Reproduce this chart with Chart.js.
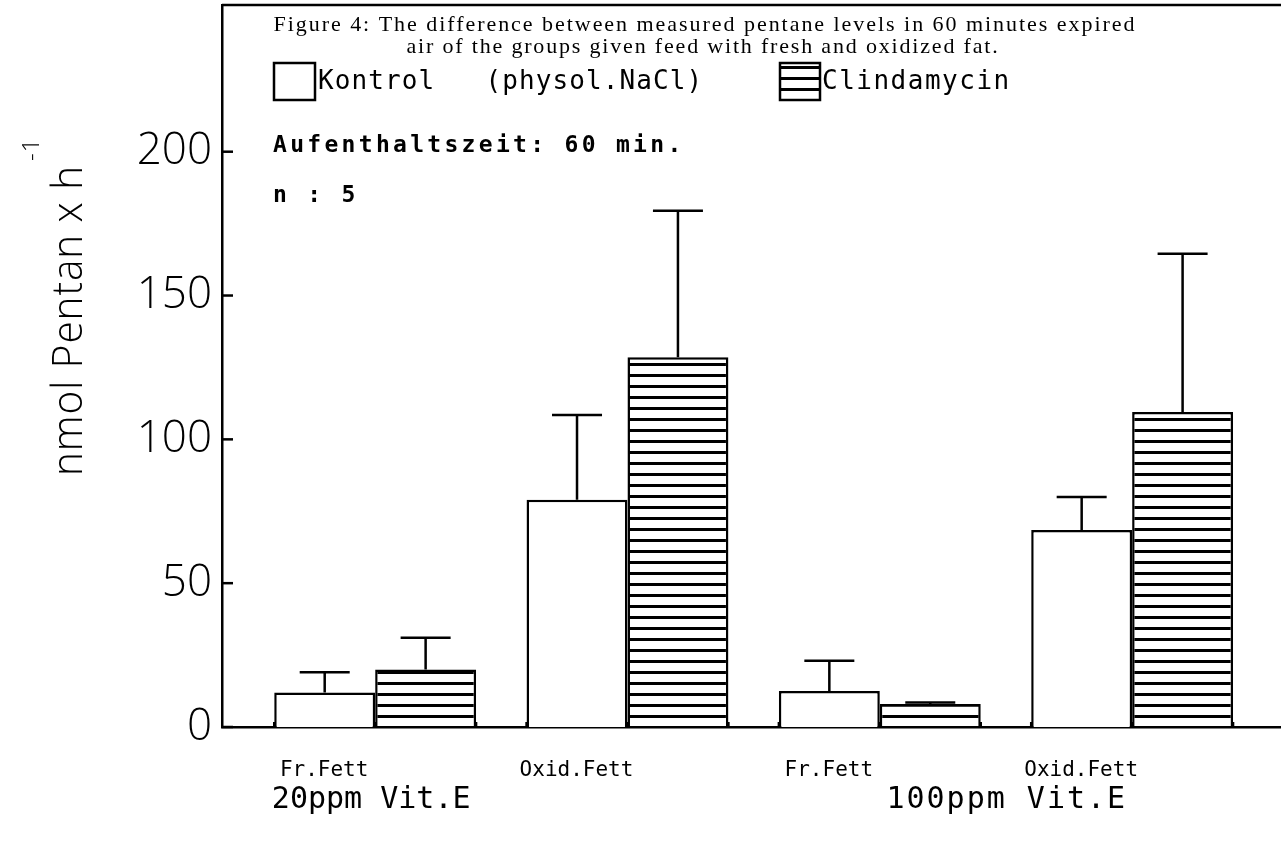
<!DOCTYPE html>
<html>
<head>
<meta charset="utf-8">
<script src="https://cdn.jsdelivr.net/npm/chart.js@4.4.1/dist/chart.umd.min.js"></script>
<style>
  html, body { margin: 0; padding: 0; background: #fff; }
  #wrap { width: 1281px; height: 847px; position: relative; }
</style>
</head>
<body>
<div id="wrap"><canvas id="chart"></canvas></div>
<script>
const categories = ["Fr.Fett", "Oxid.Fett", "Fr.Fett", "Oxid.Fett"];
const groupLabels = ["20ppm Vit.E", "100ppm Vit.E"];
const kontrolValues = [12, 79, 12.5, 68.5];
const kontrolSD = [7, 29.5, 10.5, 11.5];
const clindaValues = [20, 128.5, 8, 109.5];
const clindaSD = [11, 51, 0.5, 55];
const yTicks = [0, 50, 100, 150, 200];

const thinFont = "'Open Sans', 'DejaVu Sans Condensed', sans-serif";
const monoFont = "'DejaVu Sans Mono', monospace";

function makeHatch(step) {
  const c = document.createElement("canvas");
  c.width = 8;
  c.height = step;
  const g = c.getContext("2d");
  g.fillStyle = "#fff";
  g.fillRect(0, 0, 8, step);
  g.fillStyle = "#000";
  g.fillRect(0, 0, 8, 3);
  return g.createPattern(c, "repeat");
}

const hatch = makeHatch(11);

function text(ctx, str, x, y, font, align, spacing) {
  ctx.save();
  ctx.font = font;
  ctx.fillStyle = "#000";
  ctx.textAlign = align || "left";
  ctx.textBaseline = "middle";
  ctx.letterSpacing = (spacing || 0) + "px";
  ctx.fillText(str, x, y);
  ctx.restore();
}

const decorations = {
  id: "decorations",
  afterDatasetsDraw(chart) {
    const { ctx, chartArea, scales } = chart;
    const x = scales.x;
    const y = scales.y;

    ctx.save();
    ctx.strokeStyle = "#000";
    ctx.lineWidth = 2.5;

    // frame top
    ctx.beginPath();
    ctx.moveTo(chartArea.left, chartArea.top);
    ctx.lineTo(chartArea.right, chartArea.top);
    ctx.stroke();

    // inward y ticks
    yTicks.forEach((v) => {
      const py = y.getPixelForValue(v);
      ctx.beginPath();
      ctx.moveTo(chartArea.left, py);
      ctx.lineTo(chartArea.left + 11, py);
      ctx.stroke();
    });

    // error bars + small x ticks at bar edges
    const sds = [kontrolSD, clindaSD];
    chart.data.datasets.forEach((ds, di) => {
      const meta = chart.getDatasetMeta(di);
      meta.data.forEach((bar, i) => {
        const top = y.getPixelForValue(ds.data[i].y + sds[di][i]);
        ctx.beginPath();
        ctx.moveTo(bar.x, bar.y);
        ctx.lineTo(bar.x, top);
        ctx.moveTo(bar.x - 25, top);
        ctx.lineTo(bar.x + 25, top);
        ctx.stroke();

        const half = bar.width / 2;
        [bar.x - half, bar.x + half].forEach((ex) => {
          ctx.beginPath();
          ctx.moveTo(ex, chartArea.bottom);
          ctx.lineTo(ex, chartArea.bottom - 5);
          ctx.stroke();
        });
      });
    });
    ctx.restore();

    // title inside frame
    const t1 = "Figure 4: The difference between measured pentane levels in 60 minutes expired";
    const t2 = "air of the groups given feed with fresh and oxidized fat.";
    const tf = "22px 'Liberation Serif', serif";
    ctx.save();
    ctx.font = tf;
    const w1 = ctx.measureText(t1).width;
    const w2 = ctx.measureText(t2).width;
    ctx.restore();
    text(ctx, t1, 705, 25, tf, "center", (863 - w1) / t1.length);
    text(ctx, t2, 703, 47, tf, "center", (593 - w2) / t2.length);

    // legend
    ctx.save();
    ctx.lineWidth = 2.5;
    ctx.strokeStyle = "#000";
    ctx.fillStyle = "#fff";
    ctx.fillRect(274, 63, 41, 37);
    ctx.strokeRect(274, 63, 41, 37);
    ctx.fillStyle = hatch;
    ctx.fillRect(780, 63, 40, 37);
    ctx.strokeRect(780, 63, 40, 37);
    ctx.restore();
    text(ctx, chart.data.datasets[0].label, 318, 82, "26px " + monoFont, "left", 1.1);
    text(ctx, chart.data.datasets[1].label, 822, 82, "26px " + monoFont, "left", 1.5);

    // notes
    text(ctx, "Aufenthaltszeit: 60 min.", 273, 146, "bold 23px " + monoFont, "left", 3.3);
    text(ctx, "n : 5", 273, 196, "bold 23px " + monoFont, "left", 3.3);

    // group labels below the axis
    text(ctx, groupLabels[0], x.getPixelForValue(1) - 4, 800, "30px " + monoFont, "center", 0);
    text(ctx, groupLabels[1], x.getPixelForValue(3) + 127, 800, "30px " + monoFont, "center", 2);

    // y axis title with superscript
    ctx.save();
    ctx.translate(70, 476);
    ctx.rotate(-Math.PI / 2);
    ctx.font = "300 43px " + thinFont;
    ctx.fillStyle = "#000";
    ctx.textAlign = "left";
    ctx.textBaseline = "middle";
    const yt = "nmol Pentan x h";
    ctx.letterSpacing = "1px";
    const yw = ctx.measureText(yt).width;
    const sc = 311 / yw;
    ctx.save();
    ctx.scale(sc, 1);
    ctx.fillText(yt, 0, 0);
    ctx.restore();
    ctx.font = "300 24px " + thinFont;
    ctx.fillText("-1", 311 + 4, -38);
    ctx.restore();
  },
};

const toPoints = (vals) => vals.map((v, i) => ({ x: i + 1, y: v }));

new Chart(document.getElementById("chart"), {
  type: "bar",
  data: {
    datasets: [
      {
        label: "Kontrol   (physol.NaCl)",
        data: toPoints(kontrolValues),
        backgroundColor: "#fff",
        borderColor: "#000",
        borderWidth: 2.5,
        categoryPercentage: 0.8,
        barPercentage: 1.0,
      },
      {
        label: "Clindamycin",
        data: toPoints(clindaValues),
        backgroundColor: hatch,
        borderColor: "#000",
        borderWidth: 2.5,
        categoryPercentage: 0.8,
        barPercentage: 1.0,
      },
    ],
  },
  options: {
    responsive: true,
    maintainAspectRatio: false,
    animation: false,
    layout: { padding: { top: 5, right: 0, left: 0, bottom: 0 } },
    plugins: {
      legend: { display: false },
      tooltip: { enabled: false },
    },
    scales: {
      x: {
        type: "linear",
        min: 0.393,
        max: 4.59,
        offset: false,
        afterFit: (s) => {
          s.height = 120;
          s.paddingLeft = 0;
          s.paddingRight = 0;
        },
        afterBuildTicks: (s) => { s.ticks = categories.map((c, i) => ({ value: i + 1 })); },
        grid: { display: false, drawTicks: false },
        border: { display: true, color: "#000", width: 2.5 },
        ticks: {
          padding: 31,
          labelOffset: -51,
          color: "#000",
          font: { family: "DejaVu Sans Mono", size: 21 },
          maxRotation: 0,
          autoSkip: false,
          callback: (v) => categories[v - 1],
        },
      },
      y: {
        min: 0,
        max: 251,
        afterFit: (s) => {
          s.width = 222;
          s.paddingTop = 0;
          s.paddingBottom = 0;
        },
        afterBuildTicks: (s) => { s.ticks = yTicks.map((v) => ({ value: v })); },
        grid: { display: false, drawTicks: false },
        border: { display: true, color: "#000", width: 2.5 },
        ticks: {
          padding: 10,
          color: "#000",
          font: { family: thinFont, size: 44, weight: 300 },
        },
      },
    },
  },
  plugins: [decorations],
});
</script>
</body>
</html>
